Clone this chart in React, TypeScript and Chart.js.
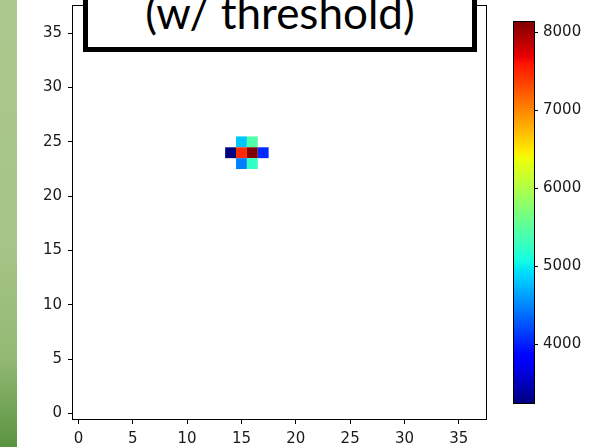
import React, { useEffect, useRef } from 'react';
import { Chart, registerables } from 'chart.js';

Chart.register(...registerables);

// ---- data ----
const TITLE = '(w/ threshold)';
const AXIS_MIN = -0.5;
const AXIS_MAX = 37.5;
const AXIS_TICKS = [0, 5, 10, 15, 20, 25, 30, 35];
const CELL_X = [15, 16, 14, 15, 16, 17, 15, 16];
const CELL_Y = [25, 25, 24, 24, 24, 24, 23, 23];
const CELL_VALUE = [4810, 5430, 3250, 7490, 8135, 4050, 4470, 5250];
const COLOR_MIN = 3250;
const COLOR_MAX = 8135;
const COLORBAR_TICKS = [4000, 5000, 6000, 7000, 8000];

// ---- jet colormap ----
const JET_R: number[][] = [[0, 0], [0.35, 0], [0.66, 1], [0.89, 1], [1, 0.5]];
const JET_G: number[][] = [[0, 0], [0.125, 0], [0.375, 1], [0.64, 1], [0.91, 0], [1, 0]];
const JET_B: number[][] = [[0, 0.5], [0.11, 1], [0.34, 1], [0.65, 0], [1, 0]];

function seg(s: number[][], t: number): number {
  if (t <= s[0][0]) return s[0][1];
  for (let i = 1; i < s.length; i++) {
    if (t <= s[i][0]) {
      const [t0, v0] = s[i - 1];
      const [t1, v1] = s[i];
      return v0 + ((t - t0) / (t1 - t0)) * (v1 - v0);
    }
  }
  return s[s.length - 1][1];
}

function jet(t: number): string {
  const c = Math.max(0, Math.min(1, t));
  const r = Math.round(seg(JET_R, c) * 255);
  const g = Math.round(seg(JET_G, c) * 255);
  const b = Math.round(seg(JET_B, c) * 255);
  return `rgb(${r},${g},${b})`;
}

const TICK_FONT = { family: 'DejaVu Sans', size: 15 };
const TICK_COLOR = '#1a1a1a';

export default function App() {
  const mainRef = useRef<HTMLCanvasElement | null>(null);
  const barRef = useRef<HTMLCanvasElement | null>(null);

  useEffect(() => {
    const cellPlugin = {
      id: 'cells',
      beforeDatasetsDraw(chart: any) {
        const { ctx } = chart;
        const xs = chart.scales.x;
        const ys = chart.scales.y;
        ctx.save();
        for (let i = 0; i < CELL_X.length; i++) {
          const x0 = xs.getPixelForValue(CELL_X[i] - 0.5);
          const x1 = xs.getPixelForValue(CELL_X[i] + 0.5);
          const y0 = ys.getPixelForValue(CELL_Y[i] + 0.5);
          const y1 = ys.getPixelForValue(CELL_Y[i] - 0.5);
          ctx.fillStyle = jet((CELL_VALUE[i] - COLOR_MIN) / (COLOR_MAX - COLOR_MIN));
          ctx.fillRect(x0, y0, x1 - x0, y1 - y0);
        }
        ctx.restore();
      },
    };
    const frame = (chart: any) => {
      const { ctx, chartArea: a } = chart;
      ctx.save();
      ctx.strokeStyle = '#000';
      ctx.lineWidth = 1;
      ctx.strokeRect(Math.round(a.left) - 0.5, Math.round(a.top) - 0.5, Math.round(a.right - a.left) + 1, Math.round(a.bottom - a.top) + 1);
      ctx.restore();
    };
    const framePlugin = { id: 'frame', afterDraw: frame };

    const axisCommon = (position: string) => ({
      type: 'linear',
      position,
      min: AXIS_MIN,
      max: AXIS_MAX,
      border: { display: false },
      grid: { display: true, drawOnChartArea: false, drawTicks: true, tickLength: 5, color: '#000', lineWidth: 1 },
      ticks: { font: TICK_FONT, color: TICK_COLOR, padding: 6, maxRotation: 0, autoSkip: false },
      afterBuildTicks(scale: any) {
        scale.ticks = AXIS_TICKS.map((v) => ({ value: v }));
      },
    });

    const main = new Chart(mainRef.current as HTMLCanvasElement, {
      type: 'scatter',
      data: {
        datasets: [
          {
            data: CELL_X.map((x, i) => ({ x, y: CELL_Y[i] })),
            pointRadius: 0,
            pointHoverRadius: 0,
          },
        ],
      },
      options: {
        responsive: false,
        animation: false,
        devicePixelRatio: 1,
        layout: { padding: { left: 0, right: 14, top: 6, bottom: 0 } },
        plugins: { legend: { display: false }, tooltip: { enabled: false } },
        events: [],
        scales: {
          x: {
            ...axisCommon('bottom'),
            afterFit(scale: any) {
              scale.height = 28;
              scale.paddingLeft = 0;
              scale.paddingRight = 0;
            },
          },
          y: {
            ...axisCommon('left'),
            afterFit(scale: any) {
              scale.width = 73;
              scale.paddingTop = 0;
              scale.paddingBottom = 0;
            },
          },
        } as any,
      },
      plugins: [cellPlugin, framePlugin],
    } as any);

    const bar = new Chart(barRef.current as HTMLCanvasElement, {
      type: 'bar',
      data: {
        labels: [''],
        datasets: [
          {
            data: [[COLOR_MIN, COLOR_MAX]],
            barPercentage: 1,
            categoryPercentage: 1,
            borderWidth: 0,
            backgroundColor: (ctx: any) => {
              const area = ctx.chart.chartArea;
              if (!area) return '#000080';
              const g = ctx.chart.ctx.createLinearGradient(0, area.bottom, 0, area.top);
              for (let i = 0; i <= 100; i++) {
                g.addColorStop(i / 100, jet(i / 100));
              }
              return g;
            },
          },
        ],
      },
      options: {
        responsive: false,
        animation: false,
        devicePixelRatio: 1,
        layout: { padding: { left: 9, right: 0, top: 22, bottom: 44 } },
        plugins: { legend: { display: false }, tooltip: { enabled: false } },
        events: [],
        scales: {
          x: { display: false },
          y: {
            type: 'linear',
            position: 'right',
            min: COLOR_MIN,
            max: COLOR_MAX,
            border: { display: false },
            grid: { display: true, drawOnChartArea: false, drawTicks: true, tickLength: 4, color: '#000', lineWidth: 1 },
            ticks: {
              font: TICK_FONT,
              color: TICK_COLOR,
              padding: 5,
              autoSkip: false,
              callback: (v: any) => String(v),
            },
            afterBuildTicks(scale: any) {
              scale.ticks = COLORBAR_TICKS.map((v) => ({ value: v }));
            },
            afterFit(scale: any) {
              scale.width = 68;
              scale.paddingTop = 0;
              scale.paddingBottom = 0;
            },
          },
        } as any,
      },
      plugins: [{ id: 'barFrame', afterDraw: frame }],
    } as any);

    return () => {
      main.destroy();
      bar.destroy();
    };
  }, []);

  return (
    <div
      style={{
        position: 'fixed',
        left: 0,
        top: 0,
        width: 602,
        height: 447,
        overflow: 'hidden',
        background: '#fff',
      }}
    >
      <div
        style={{
          position: 'absolute',
          left: 0,
          top: 0,
          width: 17,
          height: 447,
          background: 'linear-gradient(to bottom, #adc88e 0%, #a6c486 55%, #93b974 80%, #5a9440 100%)',
        }}
      />
      <canvas
        ref={mainRef}
        width={500}
        height={447}
        style={{ position: 'absolute', left: 0, top: 0, width: 500, height: 447 }}
      />
      <canvas
        ref={barRef}
        width={97}
        height={447}
        style={{ position: 'absolute', left: 505, top: 0, width: 97, height: 447 }}
      />
      <div
        style={{
          position: 'absolute',
          left: 83,
          top: -30,
          width: 394,
          height: 82,
          boxSizing: 'border-box',
          border: '5px solid #000',
          background: '#fff',
        }}
      >
        <div
          style={{
            position: 'absolute',
            left: 0,
            right: 0,
            top: 15,
            textAlign: 'center',
            fontFamily: 'Lato, "Open Sans", sans-serif',
            fontSize: 44,
            lineHeight: '44px',
            color: '#000',
            whiteSpace: 'nowrap',
          }}
        >
          {TITLE}
        </div>
      </div>
    </div>
  );
}
